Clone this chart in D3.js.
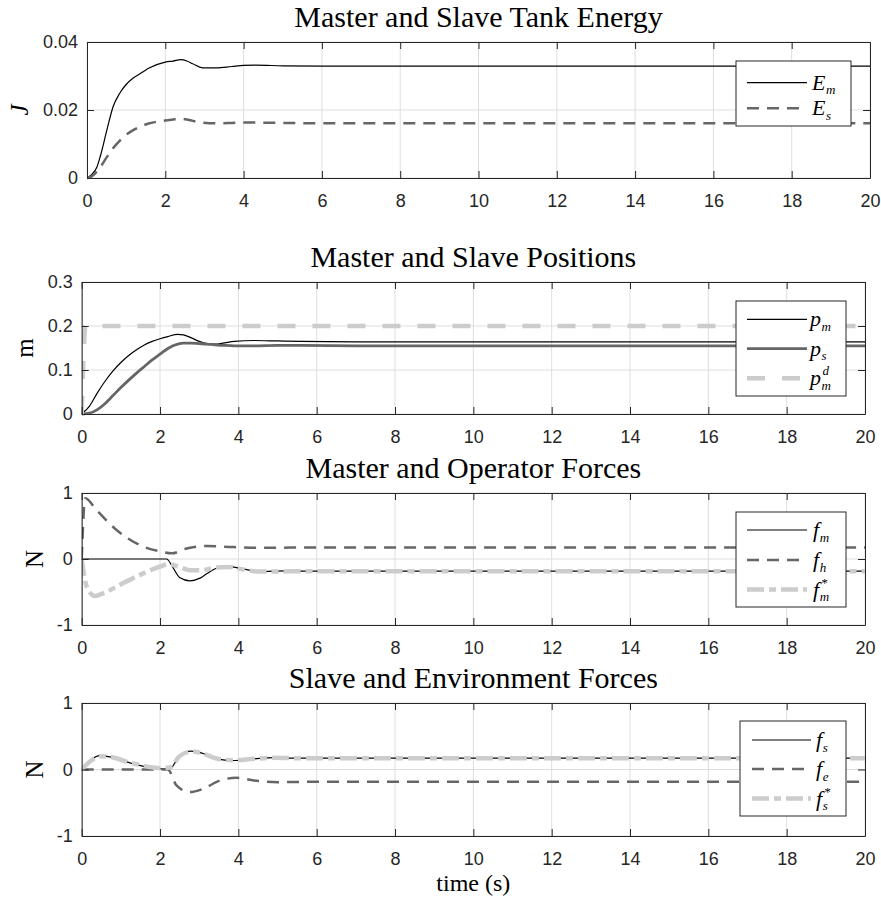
<!DOCTYPE html>
<html>
<head>
<meta charset="utf-8">
<script src="https://cdn.jsdelivr.net/npm/d3@7"></script>
<style>
  html, body { margin: 0; padding: 0; background: #fff; }
  svg { display: block; }
</style>
</head>
<body>
<svg id="chart" width="881" height="901"></svg>
<script>
// ---------------- DATA ----------------
const xTicks = [0, 2, 4, 6, 8, 10, 12, 14, 16, 18, 20];

// Panel 1: tank energy
const tEnergy = [0, 0.1, 0.26, 0.34, 0.51, 0.67, 0.84, 1.0, 1.18, 1.4, 1.6, 2.0, 2.2, 2.4, 2.55, 2.7, 2.95, 3.3, 3.7, 4.0, 4.3, 5.0, 6, 20];
const energyMaster = [0, 0.0008, 0.0034, 0.0064, 0.0142, 0.0211, 0.025, 0.0275, 0.0294, 0.031, 0.0324, 0.0341, 0.0344, 0.0348, 0.0344, 0.0336, 0.0324, 0.0324, 0.0328, 0.0331, 0.0332, 0.0330, 0.0329, 0.0329];
const energySlave = [0, 0.0003, 0.002, 0.0032, 0.0062, 0.0088, 0.011, 0.0127, 0.0141, 0.0153, 0.0161, 0.0169, 0.0172, 0.0174, 0.0172, 0.0168, 0.0163, 0.0161, 0.0162, 0.0163, 0.0163, 0.0162, 0.0161, 0.0161];
const energyTicks = [0, 0.02, 0.04];

// Panel 2: positions
const tPos = [0, 0.2, 0.4, 0.6, 0.8, 1.0, 1.2, 1.4, 1.6, 1.8, 2.0, 2.2, 2.45, 2.6, 2.8, 3.0, 3.2, 3.4, 3.6, 3.9, 4.4, 5.0, 5.6, 7, 20];
const posMaster = [0, 0.018, 0.048, 0.075, 0.098, 0.117, 0.133, 0.146, 0.157, 0.165, 0.171, 0.176, 0.181, 0.180, 0.173, 0.165, 0.160, 0.159, 0.161, 0.165, 0.167, 0.166, 0.165, 0.164, 0.164];
const posSlave = [0, 0.002, 0.01, 0.024, 0.042, 0.06, 0.077, 0.093, 0.108, 0.123, 0.136, 0.149, 0.159, 0.161, 0.161, 0.160, 0.159, 0.157, 0.156, 0.155, 0.155, 0.156, 0.156, 0.155, 0.155];
const tPosDesired = [0, 0.1, 20];
const posDesired = [0, 0.2, 0.2];
const posTicks = [0, 0.1, 0.2, 0.3];

// Panel 3: master and operator forces
const tFm = [0, 2.17, 2.3, 2.5, 2.76, 3.02, 3.2, 3.44, 3.78, 4.04, 4.55, 5.2, 6, 20];
const forceMaster = [0, 0, -0.1, -0.28, -0.33, -0.29, -0.22, -0.14, -0.115, -0.14, -0.19, -0.18, -0.185, -0.185];
const tFh = [0, 0.09, 0.38, 0.89, 1.49, 2.04, 2.3, 2.68, 3.19, 3.87, 4.5, 6, 20];
const forceHuman = [0, 0.92, 0.74, 0.44, 0.21, 0.11, 0.086, 0.16, 0.196, 0.18, 0.17, 0.175, 0.175];
const tFmStar = [0, 0.13, 0.34, 0.55, 0.98, 1.49, 2.04, 2.2, 2.5, 2.76, 3.02, 3.44, 3.78, 4.04, 4.55, 6, 20];
const forceMasterStar = [0, -0.42, -0.56, -0.52, -0.39, -0.24, -0.106, -0.08, -0.12, -0.17, -0.17, -0.13, -0.12, -0.15, -0.19, -0.185, -0.185];

// Panel 4: slave and environment forces
const tFs = [0, 0.21, 0.47, 0.72, 1.32, 2.04, 2.25, 2.5, 2.8, 3.1, 3.44, 3.87, 4.4, 4.9, 5.5, 7, 20];
const forceSlave = [0, 0.135, 0.21, 0.19, 0.085, 0.01, 0.01, 0.21, 0.275, 0.24, 0.16, 0.135, 0.16, 0.18, 0.17, 0.17, 0.17];
const forceSlaveStar = [0, 0.12, 0.2, 0.19, 0.09, 0.02, 0.03, 0.2, 0.27, 0.24, 0.165, 0.14, 0.16, 0.175, 0.17, 0.17, 0.17];
const tFe = [0, 2.2, 2.42, 2.76, 3.1, 3.53, 3.95, 4.4, 5.0, 6, 20];
const forceEnv = [0, 0, -0.24, -0.34, -0.29, -0.165, -0.125, -0.165, -0.19, -0.185, -0.185];
const forceTicks = [-1, 0, 1];

const titles = ["Master and Slave Tank Energy", "Master and Slave Positions", "Master and Operator Forces", "Slave and Environment Forces"];
const yLabels = ["J", "m", "N", "N"];
const xLabel = "time (s)";

// ---------------- STYLES ----------------
const BLACK = { stroke: "#000", width: 1.2, dash: null };
const DARK_DASH = { stroke: "#666", width: 2.5, dash: "12,8" };
const DARK_SOLID = { stroke: "#666", width: 2.8, dash: null };
const LIGHT_DASH = { stroke: "#ccc", width: 4.5, dash: "18,17" };
const LIGHT_DASHDOT = { stroke: "#ccc", width: 4.5, dash: "17,5,7,5" };

const zip = (t, v) => t.map((d, i) => [d, v[i]]);

const panels = [
  {
    box: { l: 87, r: 870, t: 42, b: 178 }, y: [0, 0.04], yTicks: energyTicks, title: titles[0],
    ylabel: { text: yLabels[0], italic: true, x: 28, size: 25 },
    series: [
      { data: zip(tEnergy, energyMaster), style: BLACK, label: { base: "E", sub: "m" } },
      { data: zip(tEnergy, energySlave), style: DARK_DASH, label: { base: "E", sub: "s" } }
    ],
    legend: { l: 736, r: 851, t: 61, b: 126, rows: [82.7, 108.3], sx0: 747, sx1: 807, tx: 812 }
  },
  {
    box: { l: 81.7, r: 865, t: 282, b: 414 }, y: [0, 0.3], yTicks: posTicks, title: titles[1],
    ylabel: { text: yLabels[1], italic: false, x: 33, size: 25 },
    series: [
      { data: zip(tPos, posMaster), style: BLACK, label: { base: "p", sub: "m" } },
      { data: zip(tPos, posSlave), style: DARK_SOLID, label: { base: "p", sub: "s" } },
      { data: zip(tPosDesired, posDesired), style: LIGHT_DASH, label: { base: "p", sub: "m", sup: "d" } }
    ],
    legend: { l: 736, r: 846, t: 301, b: 396, rows: [319.3, 348.7, 378.2], sx0: 747, sx1: 807, tx: 810 }
  },
  {
    box: { l: 81.7, r: 865, t: 493, b: 625 }, y: [-1, 1], yTicks: forceTicks, title: titles[2],
    ylabel: { text: yLabels[2], italic: false, x: 43, size: 25 },
    series: [
      { data: zip(tFm, forceMaster), style: BLACK, label: { base: "f", sub: "m" } },
      { data: zip(tFh, forceHuman), style: DARK_DASH, label: { base: "f", sub: "h" } },
      { data: zip(tFmStar, forceMasterStar), style: LIGHT_DASHDOT, label: { base: "f", sub: "m", sup: "*" } }
    ],
    legend: { l: 736, r: 846, t: 512, b: 607, rows: [530, 560, 589.5], sx0: 747, sx1: 807, tx: 813 }
  },
  {
    box: { l: 81.7, r: 865, t: 703, b: 836 }, y: [-1, 1], yTicks: forceTicks, title: titles[3],
    ylabel: { text: yLabels[3], italic: false, x: 43, size: 25 },
    series: [
      { data: zip(tFs, forceSlave), style: BLACK, label: { base: "f", sub: "s" } },
      { data: zip(tFe, forceEnv), style: DARK_DASH, label: { base: "f", sub: "e" } },
      { data: zip(tFs, forceSlaveStar), style: LIGHT_DASHDOT, label: { base: "f", sub: "s", sup: "*" } }
    ],
    legend: { l: 740, r: 846, t: 721, b: 816, rows: [740, 769, 798.5], sx0: 752, sx1: 811, tx: 816 },
    xlabel: true
  }
];

const svg = d3.select("#chart");
svg.append("rect").attr("width", 881).attr("height", 901).attr("fill", "#fff");

const AXIS = "#262626";
const GRID = "#dedede";
const TICKFONT = "'Liberation Sans', Arial, sans-serif";
const SERIF = "'Liberation Serif', 'Times New Roman', serif";

panels.forEach((p, pi) => {
  const b = p.box;
  const x = d3.scaleLinear().domain([0, 20]).range([b.l, b.r]);
  const y = d3.scaleLinear().domain(p.y).range([b.b, b.t]);
  const g = svg.append("g");

  // grid
  g.append("g").selectAll("line").data(xTicks).join("line")
    .attr("x1", d => x(d)).attr("x2", d => x(d)).attr("y1", b.t).attr("y2", b.b)
    .attr("stroke", GRID).attr("stroke-width", 1);
  g.append("g").selectAll("line").data(p.yTicks).join("line")
    .attr("y1", d => y(d)).attr("y2", d => y(d)).attr("x1", b.l).attr("x2", b.r)
    .attr("stroke", GRID).attr("stroke-width", 1);

  // clip
  const cid = "clip" + pi;
  svg.append("clipPath").attr("id", cid).append("rect")
    .attr("x", b.l).attr("y", b.t - 2).attr("width", b.r - b.l).attr("height", b.b - b.t + 4);

  const line = d3.line().x(d => x(d[0])).y(d => y(d[1])).curve(d3.curveMonotoneX);
  const lg = g.append("g").attr("clip-path", `url(#${cid})`);
  p.series.forEach(s => {
    lg.append("path").datum(s.data).attr("d", line)
      .attr("fill", "none").attr("stroke", s.style.stroke)
      .attr("stroke-width", s.style.width)
      .attr("stroke-dasharray", s.style.dash)
      .attr("stroke-linejoin", "round");
  });

  // axes
  const fmt = d => String(d);
  const ax = [
    { a: d3.axisBottom(x).tickValues(xTicks).tickFormat(fmt).tickSize(-7).tickPadding(16), tr: `translate(0,${b.b})` },
    { a: d3.axisTop(x).tickValues(xTicks).tickFormat("").tickSize(-7), tr: `translate(0,${b.t})` },
    { a: d3.axisLeft(y).tickValues(p.yTicks).tickFormat(fmt).tickSize(-7).tickPadding(9), tr: `translate(${b.l},0)` },
    { a: d3.axisRight(y).tickValues(p.yTicks).tickFormat("").tickSize(-7), tr: `translate(${b.r},0)` }
  ];
  ax.forEach(o => {
    const ag = g.append("g").attr("transform", o.tr).call(o.a.tickSizeOuter(0));
    ag.select(".domain").attr("stroke", AXIS).attr("stroke-width", 1);
    ag.selectAll(".tick line").attr("stroke", AXIS).attr("stroke-width", 1);
    ag.selectAll(".tick text").attr("fill", "#262626").attr("font-family", TICKFONT).attr("font-size", 18);
  });

  // title
  svg.append("text").attr("x", (b.l + b.r) / 2).attr("y", b.t - 15.5)
    .attr("text-anchor", "middle").attr("font-family", SERIF).attr("font-size", 30)
    .attr("fill", "#000").text(p.title);

  // ylabel
  svg.append("text")
    .attr("transform", `translate(${p.ylabel.x},${(b.t + b.b) / 2}) rotate(-90)`)
    .attr("text-anchor", "middle").attr("font-family", SERIF).attr("font-size", p.ylabel.size)
    .attr("font-style", p.ylabel.italic ? "italic" : "normal")
    .attr("fill", "#000").text(p.ylabel.text);

  if (p.xlabel) {
    svg.append("text").attr("x", (b.l + b.r) / 2).attr("y", b.b + 55)
      .attr("text-anchor", "middle").attr("font-family", SERIF).attr("font-size", 24)
      .attr("fill", "#000").text(xLabel);
  }

  // legend
  const L = p.legend;
  const leg = svg.append("g");
  leg.append("rect").attr("x", L.l).attr("y", L.t).attr("width", L.r - L.l).attr("height", L.b - L.t)
    .attr("fill", "#fff").attr("stroke", AXIS).attr("stroke-width", 1);
  p.series.forEach((s, i) => {
    const ry = L.rows[i];
    leg.append("line").attr("x1", L.sx0).attr("x2", L.sx1).attr("y1", ry).attr("y2", ry)
      .attr("stroke", s.style.stroke).attr("stroke-width", s.style.width)
      .attr("stroke-dasharray", s.style.dash);
    const t = leg.append("text").attr("x", L.tx).attr("y", ry + 7)
      .attr("font-family", SERIF).attr("font-style", "italic").attr("fill", "#000");
    t.append("tspan").attr("font-size", 22).text(s.label.base);
    const sub = t.append("tspan").attr("font-size", 13).attr("dx", 0.5).attr("dy", 4.6).text(s.label.sub);
    if (s.label.sup) {
      const sw = sub.node().getComputedTextLength();
      t.append("tspan").attr("font-size", 13).attr("dx", -sw + 1).attr("dy", -14.6).text(s.label.sup);
    }
  });
});
</script>
</body>
</html>
